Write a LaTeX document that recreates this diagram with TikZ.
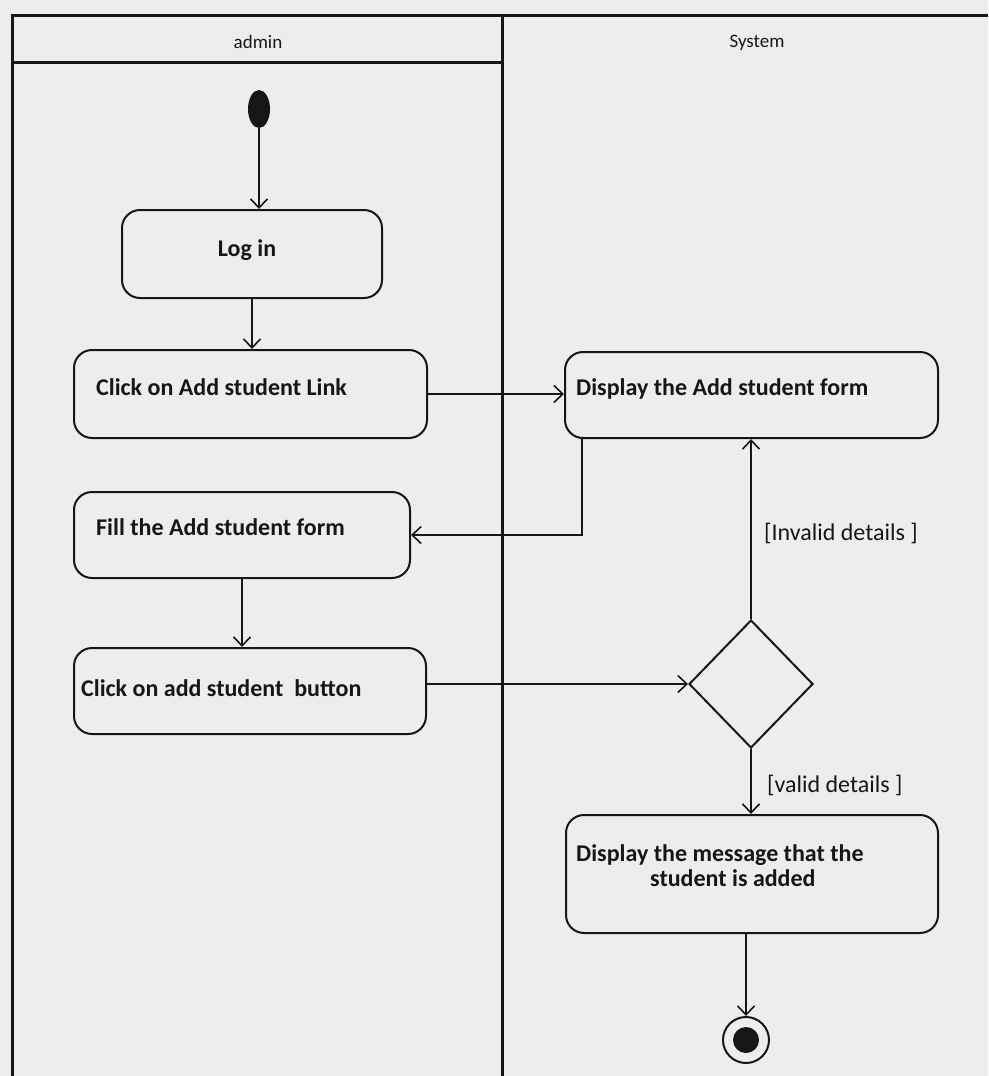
\documentclass[tikz,border=0pt]{standalone}
\usepackage{fontspec}
\setmainfont{Carlito}
\usetikzlibrary{arrows.meta,shapes.geometric}
\definecolor{bg}{RGB}{236,238,237}
\definecolor{ink}{RGB}{22,22,22}
\begin{document}
\begin{tikzpicture}[x=1pt,y=-1pt,
 act/.style={draw=ink,line width=2pt,rounded corners=18pt,inner sep=0pt},
 lane/.style={draw=ink,line width=3pt},
 flow/.style={draw=ink,line width=1.6pt,-{Straight Barb[length=9pt,width=17pt,line width=1.6pt]}},
 btxt/.style={font=\fontsize{24}{25}\selectfont\bfseries,text=ink,inner sep=0pt},
 gtxt/.style={font=\fontsize{24}{28}\selectfont,text=ink,inner sep=0pt},
 htxt/.style={font=\fontsize{19}{22}\selectfont,text=ink,inner sep=0pt}]
% background and bounding box
\fill[bg] (0,0) rectangle (988,1076);
\useasboundingbox (0,0) rectangle (988,1076);
% swimlanes
\draw[lane] (12,1076) -- (12,15) -- (988,15);
\draw[lane] (502,15) -- (502,1076);
\draw[lane] (12,62) -- (502,62);
\node[htxt] (hadmin) at (258,42) {admin};
\node[htxt] (hsys) at (757,43) {System};
% nodes
\node[ellipse,fill=ink,minimum width=22pt,minimum height=38pt,inner sep=0pt] (start) at (259,109) {};
\node[act,minimum width=260pt,minimum height=88pt] (login) at (252,254) {};
\node[btxt] (tlogin) at (247,250) {Log in};
\node[act,minimum width=353pt,minimum height=88pt] (link) at (250.5,394) {};
\node[btxt,anchor=west] (tlink) at (96,387) {Click on Add student Link};
\node[act,minimum width=373pt,minimum height=86pt] (dform) at (751.5,395) {};
\node[btxt,anchor=west] (tdform) at (576,389) {Display the Add student form};
\node[act,minimum width=336pt,minimum height=86pt] (fill) at (242,535) {};
\node[btxt,anchor=west] (tfill) at (96,527) {Fill the Add student form};
\node[act,minimum width=352pt,minimum height=86pt] (button) at (250,691) {};
\node[btxt,anchor=west] (tbutton) at (81,688) {Click on add student~ button};
\node[diamond,draw=ink,line width=2pt,minimum width=124pt,minimum height=128pt,inner sep=0pt] (dia) at (751,684) {};
\node[act,minimum width=372pt,minimum height=118pt] (dmsg) at (752,874) {};
\node[btxt,align=left,anchor=west] (tdmsg) at (576,866) {Display the message that the\\ \hspace*{74pt}student is added};
\node[circle,draw=ink,line width=2pt,minimum size=46pt,inner sep=0pt] (end) at (746,1040) {};
\node[circle,fill=ink,minimum size=26pt,inner sep=0pt] (endin) at (746,1040) {};
% guard labels
\node[gtxt,anchor=west] (ginv) at (764,533) {[Invalid details ]};
\node[gtxt,anchor=west] (gval) at (767,785) {[valid details ]};
% flows
\draw[flow] (start.south) -- (start.south |- login.north);
\draw[flow] (login.south) -- (login.south |- link.north);
\draw[flow] (link.east) -- (link.east -| dform.west);
\draw[flow] ([xshift=18pt]dform.south west) |- (fill.east);
\draw[flow] (fill.south) -- (fill.south |- button.north);
\draw[flow] (button.east |- dia.west) -- (dia.west);
\draw[flow] (dia.north) -- (dia.north |- dform.south);
\draw[flow] (dia.south) -- (dia.south |- dmsg.north);
\draw[flow] (end.north |- dmsg.south) -- (end.north);
\end{tikzpicture}
\end{document}
